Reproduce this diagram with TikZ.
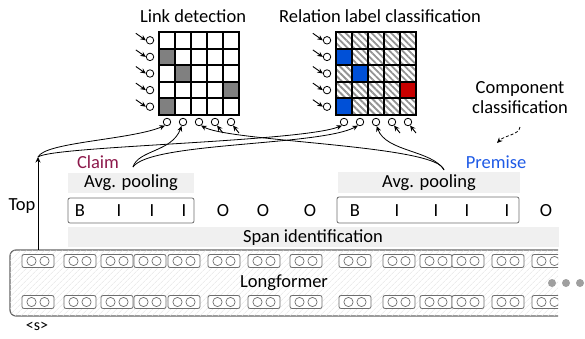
\documentclass[tikz,border=0pt]{standalone}
\usepackage{fontspec}
\setmainfont{Carlito}
\usetikzlibrary{arrows.meta,patterns.meta}
\definecolor{claimc}{RGB}{140,25,75}
\definecolor{premc}{RGB}{30,90,230}
\definecolor{barfill}{RGB}{240,240,240}
\definecolor{relblue}{RGB}{0,80,215}
\definecolor{relred}{RGB}{200,0,0}
\definecolor{cellgray}{RGB}{128,128,128}
\definecolor{tokline}{RGB}{110,110,110}
\begin{document}
\begin{tikzpicture}[x=1pt,y=-1pt,
  txt/.style={font=\fontsize{18.5}{21}\selectfont, inner sep=0pt},
  gridline/.style={line width=2pt, line cap=rect},
  dot/.style={circle, draw, line width=0.8pt, minimum size=7.5pt, inner sep=0pt},
  tipa/.style={-{Stealth[length=5.5pt,width=5pt]}, line width=0.9pt},
  curve/.style={-{Stealth[length=5.5pt,width=5pt]}, line width=0.8pt},
  bar/.style={fill=barfill, draw=none},
  tagbox/.style={draw=tokline, line width=0.8pt, rounded corners=2pt, fill=white},
  tokbox/.style={draw=tokline, line width=0.8pt, rounded corners=2pt, fill=white,
    minimum width=32pt, minimum height=13pt, inner sep=0pt},
  tokc/.style={draw=tokline, line width=0.7pt},
]
\useasboundingbox (0,0) rectangle (585,338);

% ---------- link detection matrix ----------
\node[txt] (ltitle) at (193,16) {Link detection};
\foreach \c/\r in {1/2,2/3,5/4,1/5}
  \fill[cellgray] ({159+16*(\c-1)},{32+16.6*(\r-1)}) rectangle ++(16,16.6);
\foreach \i in {0,...,5} {
  \draw[gridline] ({159+16*\i},32) -- ({159+16*\i},115);
  \draw[gridline] (159,{32+16.6*\i}) -- (239,{32+16.6*\i});
}
\foreach \r in {1,...,5} {
  \node[dot] (lr\r) at (150,{40.3+16.6*(\r-1)}) {};
  \draw[tipa] ([shift={(-10,-7)}]lr\r.west) -- (lr\r.west);
}
\foreach \c in {1,...,5}
  \node[dot] (lc\c) at ({167+16*(\c-1)},122) {};

% ---------- relation label classification matrix ----------
\node[txt] (rtitle) at (380,16) {Relation label classification};
\fill[white] (336,32) rectangle (416,115);
\fill[pattern={Lines[angle=-45,distance=4.6pt,line width=1.8pt]}, pattern color=gray!85]
  (336,32) rectangle (416,115);
\foreach \c/\r in {1/2,2/3,1/5}
  \fill[relblue] ({336+16*(\c-1)},{32+16.6*(\r-1)}) rectangle ++(16,16.6);
\fill[relred] ({336+16*4},{32+16.6*3}) rectangle ++(16,16.6);
\foreach \i in {0,...,5} {
  \draw[gridline] ({336+16*\i},32) -- ({336+16*\i},115);
  \draw[gridline] (336,{32+16.6*\i}) -- (416,{32+16.6*\i});
}
\foreach \r in {1,...,5} {
  \node[dot] (rr\r) at (327,{40.3+16.6*(\r-1)}) {};
  \draw[tipa] ([shift={(-10,-7)}]rr\r.west) -- (rr\r.west);
}
\foreach \c in {1,...,5}
  \node[dot] (rc\c) at ({344+16*(\c-1)},122) {};

% short inputs of the last two columns
\foreach \c in {4,5} {
  \draw[tipa] ([shift={(8,11)}]lc\c.center) -- (lc\c.-60);
  \draw[tipa] ([shift={(8,11)}]rc\c.center) -- (rc\c.-60);
}

% ---------- component classification ----------
\node[txt, align=center] (cc) at (520,98) {Component\\[-1pt]classification};
\node[txt, text=claimc] (claim) at (98,162) {Claim};
\node[txt, text=premc] (prem) at (496,162) {Premise};
\coordinate (ccs) at (520,127);
\coordinate (cce) at (497,143);
\draw[curve, dashed, dash pattern=on 3pt off 2pt] (ccs)
  .. controls (519,135) and (505,135) .. (cce);

% ---------- pooling, tags, span identification ----------
\fill[bar] (68,173) rectangle (194,193);
\node[txt] (poolA) at (131,183) {Avg. pooling};
\fill[bar] (338,172) rectangle (520,193);
\node[txt] (poolB) at (429,183) {Avg. pooling};

\draw[tagbox] (68,198) rectangle (194,223);
\draw[tagbox] (337,197) rectangle (519,223);
\foreach \x/\t [count=\i] in {80/B,119/I,152/I,184/I,223/O,263/O,310/O,355/B,397/I,436/I,467/I,507/I,546/O}
  \node[txt] (tag\i) at (\x,211) {\t};

\fill[bar] (68,227) rectangle (559,247);
\node[txt] (span) at (313,238) {Span identification};

% ---------- Longformer ----------
\begin{scope}
  \clip (0,240) rectangle (558,330);
  \draw[draw=gray!80!black, line width=1.2pt, rounded corners=6pt, fill=white,
        postaction={pattern={Lines[angle=45,distance=4pt,line width=0.6pt]}, pattern color=gray!22}]
    (10,250) rectangle (600,316);
\end{scope}
\coordinate (sTop) at (38,250);
\node[txt] (lf) at (284,283) {Longformer};
\foreach \x [count=\i] in {38,80,117,150,184,224,264,306,355,399,436,468,508,548} {
  \begin{scope}
    \clip (0,240) rectangle (558,330);
    \node[tokbox] (tu\i) at (\x,261) {};
    \node[tokbox] (td\i) at (\x,302) {};
    \draw[tokc] ([xshift=-6.5pt]tu\i.center) circle (4.6pt) ([xshift=6.5pt]tu\i.center) circle (4.6pt);
    \draw[tokc] ([xshift=-6.5pt]td\i.center) circle (4.6pt) ([xshift=6.5pt]td\i.center) circle (4.6pt);
  \end{scope}
}
\foreach \x [count=\i] in {552,566,580}
  \fill[gray!75] (\x,283) circle (4pt) coordinate (more\i);
\node[font=\fontsize{16}{18}\selectfont, inner sep=0pt] (stok) at (37,326) {<s>};

% ---------- connectors ----------
\node[txt] (toplbl) at (22,206) {Top};
\coordinate (topj) at (38,157);
\draw[curve] (sTop) -- (topj);
\draw[curve] (topj) .. controls (45,142) and (130,140) .. (lc1.-120);
\draw[curve] (topj) .. controls (52,146) and (300,142) .. (rc1.-120);
\coordinate (claimj) at (133,167);
\coordinate (premj) at (444,170);
\draw[curve] (claimj) .. controls (138,150) and (172,152) .. (lc2.-110);
\draw[curve] (claimj) .. controls (150,142) and (320,146) .. (rc2.-120);
\draw[curve] (premj) .. controls (438,145) and (232,142) .. (lc3.-60);
\draw[curve] (premj) .. controls (432,150) and (386,152) .. (rc3.-80);
\end{tikzpicture}
\end{document}
